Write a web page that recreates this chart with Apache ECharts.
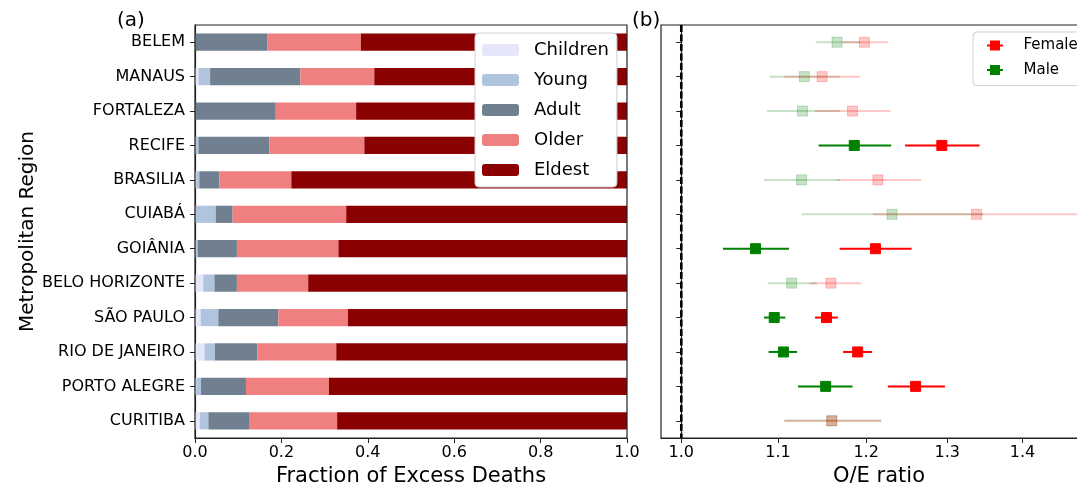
<!DOCTYPE html>
<html>
<head>
<meta charset="utf-8">
<script src="https://cdn.jsdelivr.net/npm/echarts@6/dist/echarts.min.js"></script>
<style>
  html, body { margin: 0; padding: 0; background: #fff; }
  #chart { width: 1077px; height: 483px; }
</style>
</head>
<body>
<div id="chart"></div>
<script>
// metropolitan regions, top to bottom
const regions = ['BELEM', 'MANAUS', 'FORTALEZA', 'RECIFE', 'BRASILIA', 'CUIABÁ', 'GOIÂNIA',
  'BELO HORIZONTE', 'SÃO PAULO', 'RIO DE JANEIRO', 'PORTO ALEGRE', 'CURITIBA'];

// (a) fraction of excess deaths per age group
const children = [0.000, 0.008, 0.000, 0.002, 0.003, 0.000, 0.002, 0.019, 0.013, 0.022, 0.003, 0.011];
const young    = [0.000, 0.027, 0.000, 0.006, 0.007, 0.048, 0.004, 0.026, 0.041, 0.024, 0.011, 0.020];
const adult    = [0.168, 0.209, 0.187, 0.164, 0.046, 0.039, 0.091, 0.052, 0.139, 0.098, 0.104, 0.094];
const older    = [0.216, 0.171, 0.186, 0.220, 0.167, 0.263, 0.235, 0.165, 0.161, 0.183, 0.192, 0.204];
const eldest   = [0.616, 0.585, 0.627, 0.608, 0.777, 0.650, 0.668, 0.738, 0.646, 0.673, 0.690, 0.671];

// (b) O/E ratio with confidence interval
const femaleOE   = [1.198, 1.149, 1.184, 1.293, 1.214, 1.338, 1.211, 1.159, 1.154, 1.190, 1.260, 1.160];
const femaleLow  = [1.172, 1.107, 1.141, 1.247, 1.166, 1.208, 1.169, 1.135, 1.141, 1.173, 1.226, 1.107];
const femaleHigh = [1.226, 1.193, 1.229, 1.342, 1.267, 1.480, 1.255, 1.194, 1.167, 1.207, 1.297, 1.218];
const maleOE     = [1.166, 1.129, 1.127, 1.186, 1.126, 1.231, 1.076, 1.115, 1.096, 1.106, 1.153, 1.160];
const maleLow    = [1.142, 1.091, 1.088, 1.145, 1.085, 1.126, 1.042, 1.089, 1.085, 1.090, 1.122, 1.107];
const maleHigh   = [1.193, 1.169, 1.169, 1.230, 1.169, 1.347, 1.112, 1.143, 1.108, 1.121, 1.184, 1.218];
const significant = [false, false, false, true, false, false, true, false, true, true, true, false];

const oeTicks = [1.0, 1.1, 1.2, 1.3, 1.4];
const refRatio = 1.0;

const FONT = 'DejaVu Sans';
const ageNames = ['Children', 'Young', 'Adult', 'Older', 'Eldest'];
const ageValues = [children, young, adult, older, eldest];
const ageColors = ['#e6e6fa', '#b0c4de', '#708090', '#f08080', '#8b0000'];

const chart = echarts.init(document.getElementById('chart'));

// error bar with square marker, drawn in log space
const errorBar = (rgb) => (params, api) => {
  const i = api.value(0);
  const a = significant[i] ? 1 : 0.22;
  const col = `rgba(${rgb},${a})`;
  const c = api.coord([api.value(1), i]);
  const lo = api.coord([api.value(2), i]);
  const hi = api.coord([api.value(3), i]);
  return {
    type: 'group',
    children: [
      { type: 'line', shape: { x1: lo[0], y1: c[1], x2: hi[0], y2: c[1] }, style: { stroke: col, lineWidth: 2 } },
      { type: 'rect', shape: { x: c[0] - 5, y: c[1] - 5, width: 10, height: 10 }, style: { fill: col, stroke: col, lineWidth: 1 } }
    ]
  };
};

// vertical dashed reference line over the full panel height
const refLine = (params, api) => {
  const x = api.coord([api.value(0), 0])[0];
  const cs = params.coordSys;
  return {
    type: 'line',
    shape: { x1: x, y1: cs.y, x2: x, y2: cs.y + cs.height },
    style: { stroke: '#000', lineWidth: 2.6, lineDash: [7, 2.5] }
  };
};

const oeData = (mid, lo, hi) => regions.map((r, i) => [i, Math.log(mid[i]), Math.log(lo[i]), Math.log(hi[i])]);

const errIcon = 'path://M0,4 L3,4 L3,0 L13,0 L13,4 L16,4 L16,6 L13,6 L13,10 L3,10 L3,6 L0,6 Z';

const axisText = { color: '#000', fontFamily: FONT, fontSize: 16 };
const frame = { show: true, lineStyle: { color: '#222', width: 1.2 } };

const option = {
  backgroundColor: '#fff',
  animation: false,
  title: [
    { text: '(a)', left: 112, top: 6, textStyle: { fontFamily: FONT, fontSize: 20, fontWeight: 'normal', color: '#000' } },
    { text: '(b)', left: 627, top: 6, textStyle: { fontFamily: FONT, fontSize: 20, fontWeight: 'normal', color: '#000' } }
  ],
  grid: [
    { left: 195, top: 25, width: 432, height: 413, outerBoundsMode: 'none', containLabel: false,
      show: true, borderColor: '#222', borderWidth: 1.2, backgroundColor: 'transparent', z: 10 },
    { left: 661, top: 25, width: 436, height: 413, outerBoundsMode: 'none', containLabel: false,
      show: true, borderColor: '#222', borderWidth: 1.2, backgroundColor: 'transparent', z: 10 }
  ],
  legend: [
    {
      data: ageNames,
      orient: 'vertical',
      left: 475, top: 33,
      itemWidth: 37, itemHeight: 12, itemGap: 12,
      padding: [8, 8, 8, 7],
      backgroundColor: '#fff', borderColor: '#d0d0d0', borderWidth: 1, borderRadius: 4,
      textStyle: { fontFamily: FONT, fontSize: 18, color: '#000', lineHeight: 12, padding: [0, 0, 0, 10] },
      selectedMode: false
    },
    {
      data: [{ name: 'Female', icon: errIcon }, { name: 'Male', icon: errIcon }],
      orient: 'vertical',
      left: 973, top: 32,
      itemWidth: 17, itemHeight: 10, itemGap: 9.6,
      padding: [6, 20, 8, 14],
      backgroundColor: '#fff', borderColor: '#d0d0d0', borderWidth: 1, borderRadius: 4,
      textStyle: { fontFamily: FONT, fontSize: 15, color: '#000', lineHeight: 10, padding: [0, 0, 0, 15] },
      selectedMode: false
    }
  ],
  xAxis: [
    {
      gridIndex: 0, type: 'value', min: 0, max: 1, interval: 0.2,
      name: 'Fraction of Excess Deaths', nameLocation: 'middle', nameGap: 26,
      nameTextStyle: { fontFamily: FONT, fontSize: 21, color: '#000' },
      axisLine: frame, axisTick: { show: true, length: 5, lineStyle: { color: '#222' } },
      axisLabel: { ...axisText, margin: 7, formatter: v => v.toFixed(1) },
      splitLine: { show: false }
    },
    {
      gridIndex: 1, type: 'value', min: -0.02, max: 0.41,
      name: 'O/E ratio', nameLocation: 'middle', nameGap: 26,
      nameTextStyle: { fontFamily: FONT, fontSize: 21, color: '#000' },
      axisLine: frame,
      axisTick: { show: true, length: 5, lineStyle: { color: '#222' }, customValues: oeTicks.map(Math.log) },
      axisLabel: { ...axisText, margin: 7, customValues: oeTicks.map(Math.log), formatter: v => Math.exp(v).toFixed(1) },
      splitLine: { show: false }
    }
  ],
  yAxis: [
    {
      gridIndex: 0, type: 'category', data: regions, inverse: true,
      name: 'Metropolitan Region', nameLocation: 'middle', nameGap: 145, nameRotate: 90,
      nameTextStyle: { fontFamily: FONT, fontSize: 20, color: '#000' },
      axisLine: frame,
      axisTick: { show: true, alignWithLabel: true, length: 5, lineStyle: { color: '#222' } },
      axisLabel: { ...axisText, margin: 10 }
    },
    {
      gridIndex: 1, type: 'category', data: regions, inverse: true,
      axisLine: frame,
      axisTick: { show: true, alignWithLabel: true, length: 5, lineStyle: { color: '#222' } },
      axisLabel: { show: false }
    }
  ],
  series: [
    ...ageNames.map((name, k) => ({
      name, type: 'bar', stack: 'total', xAxisIndex: 0, yAxisIndex: 0,
      barWidth: '50%', data: ageValues[k],
      itemStyle: { color: ageColors[k] }, silent: true
    })),
    {
      type: 'custom', xAxisIndex: 1, yAxisIndex: 1,
      encode: { x: 0 },
      renderItem: refLine,
      data: [[Math.log(refRatio)]],
      silent: true, z: 3
    },
    {
      name: 'Male', type: 'custom', xAxisIndex: 1, yAxisIndex: 1,
      itemStyle: { color: '#008000' },
      encode: { x: [1, 2, 3], y: 0 },
      renderItem: errorBar('0,128,0'),
      data: oeData(maleOE, maleLow, maleHigh),
      silent: true
    },
    {
      name: 'Female', type: 'custom', xAxisIndex: 1, yAxisIndex: 1,
      itemStyle: { color: '#ff0000' },
      encode: { x: [1, 2, 3], y: 0 },
      renderItem: errorBar('255,0,0'),
      data: oeData(femaleOE, femaleLow, femaleHigh),
      silent: true
    }
  ]
};

chart.setOption(option);
</script>
</body>
</html>
